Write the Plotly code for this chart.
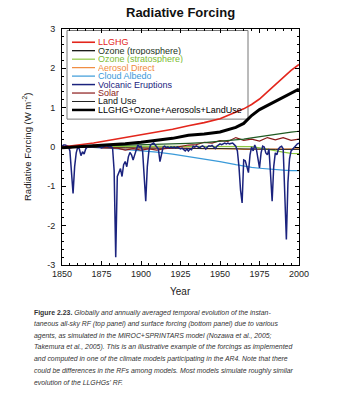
import plotly.graph_objects as go

# ---------------- data ----------------
smooth_years = [1850, 1860, 1870, 1880, 1890, 1900, 1910, 1920, 1930, 1940,
                1950, 1960, 1965, 1970, 1975, 1980, 1985, 1990, 1995, 2000]
llghg = [0.0, 0.05, 0.10, 0.17, 0.24, 0.30, 0.37, 0.45, 0.54, 0.62,
         0.72, 0.88, 0.97, 1.08, 1.22, 1.40, 1.58, 1.78, 1.95, 2.10]
total = [-0.02, 0.0, 0.03, 0.06, 0.08, 0.12, 0.17, 0.22, 0.30, 0.33,
         0.38, 0.50, 0.60, 0.80, 0.95, 1.05, 1.17, 1.27, 1.37, 1.47]
ozone_trop = [0.0, 0.01, 0.02, 0.03, 0.04, 0.05, 0.06, 0.07, 0.09, 0.11,
              0.14, 0.18, 0.20, 0.23, 0.26, 0.30, 0.32, 0.35, 0.38, 0.40]
ozone_strat = [0.0, 0.0, 0.01, 0.01, 0.02, 0.02, 0.02, 0.02, 0.02, 0.02,
               0.02, 0.02, 0.02, 0.01, -0.02, -0.06, -0.10, -0.13, -0.16, -0.17]
aerosol_direct = [0.0, 0.0, -0.01, -0.01, -0.02, -0.02, -0.03, -0.03, -0.03, -0.04,
                  -0.04, -0.05, -0.06, -0.06, -0.06, -0.06, -0.05, -0.05, -0.05, -0.05]
cloud_albedo = [0.0, 0.0, -0.01, -0.03, -0.06, -0.09, -0.13, -0.18, -0.24, -0.30,
                -0.37, -0.45, -0.49, -0.52, -0.54, -0.56, -0.58, -0.59, -0.60, -0.60]
land_use = [0.0, -0.01, -0.01, -0.02, -0.02, -0.03, -0.03, -0.03, -0.04, -0.04,
            -0.04, -0.05, -0.05, -0.05, -0.05, -0.06, -0.06, -0.06, -0.06, -0.06]

solar_years = [1850, 1855, 1860, 1865, 1870, 1875, 1880, 1885, 1890, 1895,
               1900, 1905, 1910, 1915, 1920, 1925, 1930, 1935, 1940, 1945,
               1950, 1955, 1960, 1965, 1970, 1975, 1980, 1985, 1990, 1995, 2000]
solar = [0.0, -0.03, 0.03, 0.0, 0.05, -0.02, -0.02, -0.03, -0.08, -0.04,
         -0.08, -0.05, -0.08, -0.04, -0.02, 0.02, 0.05, 0.06, 0.12, 0.10,
         0.16, 0.14, 0.24, 0.17, 0.20, 0.15, 0.24, 0.18, 0.24, 0.17, 0.20]

volc_years = list(range(1850, 2001))
volcanic = [
    0.02, 0.05, 0.05, 0.04, 0.02, -0.10, -0.70, -1.18, -0.50, -0.15,   # 1850-59
    0.00, -0.05, -0.22, -0.12, -0.18, -0.05, 0.00, 0.02, 0.02, 0.00,   # 1860-69
    0.02, 0.03, 0.02, 0.00, 0.00, -0.02, 0.00, 0.02, 0.03, 0.02,       # 1870-79
    0.00, 0.01, -0.02, -0.60, -2.80, -0.75, -0.62, -0.55, -0.75, -0.45,  # 1880-89
    -0.37, -0.50, -0.25, -0.14, -0.20, -0.33, -0.20, -0.05, 0.05, 0.00,  # 1890-99
    0.02, -0.10, -0.80, -1.38, -0.50, -0.10, 0.05, 0.08, 0.10, 0.05,   # 1900-09
    0.00, -0.05, -0.37, -0.20, 0.00, 0.02, -0.02, 0.00, -0.03, 0.00,   # 1910-19
    -0.02, 0.00, -0.03, 0.00, -0.02, -0.05, -0.03, -0.08, -0.10, -0.05,  # 1920-29
    -0.10, -0.05, -0.07, 0.02, 0.00, 0.03, 0.00, -0.02, 0.01, 0.03,    # 1930-39
    0.00, -0.05, 0.00, 0.03, 0.02, 0.04, 0.00, -0.04, 0.02, 0.05,      # 1940-49
    0.08, 0.06, 0.08, 0.10, 0.08, 0.10, 0.08, 0.10, 0.10, 0.06,        # 1950-59
    0.02, -0.10, -0.50, -1.10, -1.42, -0.33, -0.35, -0.50, -0.65, -0.20,  # 1960-69
    0.00, -0.10, 0.05, -0.05, -0.30, -0.53, -0.15, 0.02, 0.00, -0.15,  # 1970-79
    -0.20, -0.05, -0.70, -1.38, -0.50, -0.15, -0.20, -0.05, 0.00, 0.02,  # 1980-89
    -0.05, -1.20, -2.35, -0.90, -0.30, -0.10, -0.05, 0.00, 0.05, 0.08,  # 1990-99
    0.10,                                                               # 2000
]

series_names = ["LLGHG", "Ozone (troposphere)", "Ozone (stratosphere)", "Aerosol Direct",
                "Cloud Albedo", "Volcanic Eruptions", "Solar", "Land Use",
                "LLGHG+Ozone+Aerosols+LandUse"]
line_colors = ["#e3261c", "#1f5a22", "#8cc63f", "#f08a3c",
               "#3a9ad9", "#1b237e", "#8b1a1a", "#222222", "#000000"]
text_colors = ["#e3261c", "#233523", "#7dbb35", "#f08a3c",
               "#3a9ad9", "#1b237e", "#8b1a1a", "#111111", "#000000"]
line_widths = [1.6, 1.2, 1.2, 1.2, 1.2, 1.5, 1.2, 1.0, 3.0]

x_tick_vals = [1850, 1875, 1900, 1925, 1950, 1975, 2000]
y_tick_vals = [-3, -2, -1, 0, 1, 2, 3]
y_tick_text = ["-3", "-2", "-1", "0", "1", "2", "3"]

caption_lines = [
    "<b>Figure 2.23.</b> <i>Globally and annually averaged temporal evolution of the instan-</i>",
    "<i>taneous all-sky RF (top panel) and surface forcing (bottom panel) due to various</i>",
    "<i>agents, as simulated in the MIROC+SPRINTARS model (Nozawa et al., 2005;</i>",
    "<i>Takemura et al., 2005). This is an illustrative example of the forcings as implemented</i>",
    "<i>and computed in one of the climate models participating in the AR4. Note that there</i>",
    "<i>could be differences in the RFs among models. Most models simulate roughly similar</i>",
    "<i>evolution of the LLGHGs' RF.</i>",
]

# ---------------- layout geometry ----------------
W, H = 348, 400
L, R, T, B = 62, 49, 28.5, 134.5
PW, PH = W - L - R, H - T - B


def px(xp):
    return (xp - L) / PW


def py(yp):
    return 1 - (yp - T) / PH


FONT = "Liberation Sans, Arial, sans-serif"

fig = go.Figure()

order_data = [
    (smooth_years, cloud_albedo, 4),
    (smooth_years, aerosol_direct, 3),
    (smooth_years, ozone_strat, 2),
    (smooth_years, land_use, 7),
    (solar_years, solar, 6),
    (smooth_years, ozone_trop, 1),
    (volc_years, volcanic, 5),
    (smooth_years, llghg, 0),
    (smooth_years, total, 8),
]
for xs, ys, i in order_data:
    fig.add_trace(go.Scatter(x=xs, y=ys, mode="lines", name=series_names[i],
                             line=dict(color=line_colors[i], width=line_widths[i]),
                             showlegend=False))

# ---------------- manual legend ----------------
shapes = [dict(type="rect", xref="paper", yref="paper",
               x0=px(67), x1=px(248), y0=py(119), y1=py(30),
               line=dict(color="#777777", width=1), fillcolor="white", layer="below")]
annotations = []
row_y0, row_dy = 41.8, 8.5
for i, name in enumerate(series_names):
    yy = row_y0 + i * row_dy
    shapes.append(dict(type="line", xref="paper", yref="paper",
                       x0=px(72), x1=px(95), y0=py(yy), y1=py(yy),
                       line=dict(color=line_colors[i] if i != 1 else "#000000",
                                 width=min(line_widths[i], 2.5))))
    annotations.append(dict(xref="paper", yref="paper", x=px(97), y=py(yy),
                            xanchor="left", yanchor="middle", showarrow=False,
                            height=8, valign="middle", borderpad=0,
                            text=name, font=dict(family=FONT, size=9, color=text_colors[i])))

# title, axis titles
annotations.append(dict(xref="paper", yref="paper", x=px(180), y=py(12),
                        xanchor="center", yanchor="middle", showarrow=False,
                        text="<b>Radiative Forcing</b>",
                        font=dict(family=FONT, size=13, color="#111111")))
annotations.append(dict(xref="paper", yref="paper", x=px(27), y=py(147),
                        xanchor="center", yanchor="middle", showarrow=False, textangle=-90,
                        text="Radiative Forcing (W m<sup>-2</sup>)",
                        font=dict(family=FONT, size=9.5, color="#222222")))
annotations.append(dict(xref="paper", yref="paper", x=px(180), y=py(292),
                        xanchor="center", yanchor="middle", showarrow=False,
                        text="Year", font=dict(family=FONT, size=10, color="#222222")))

cap_y0, cap_dy = 313.5, 11.6
for k, line in enumerate(caption_lines):
    annotations.append(dict(xref="paper", yref="paper", x=px(32), y=py(cap_y0 + k * cap_dy),
                            xanchor="left", yanchor="middle", showarrow=False,
                            text=line, font=dict(family=FONT, size=6.9, color="#333333")))

axis_common = dict(showline=True, linecolor="black", linewidth=1, mirror="ticks",
                   ticks="inside", ticklen=4, tickcolor="black", tickwidth=1,
                   showgrid=False, zeroline=False,
                   tickfont=dict(family=FONT, size=9, color="#222222"))

fig.update_layout(
    width=W, height=H,
    margin=dict(l=L, r=R, t=T, b=B, pad=0),
    paper_bgcolor="white", plot_bgcolor="white",
    showlegend=False,
    xaxis=dict(range=[1850, 2000], tickvals=x_tick_vals,
               minor=dict(dtick=5, tick0=1850, ticks="inside", ticklen=2, tickcolor="black"),
               **axis_common),
    yaxis=dict(range=[-3, 3], tickvals=y_tick_vals, ticktext=y_tick_text,
               minor=dict(dtick=0.2, tick0=0, ticks="inside", ticklen=2, tickcolor="black"),
               ticklabelstandoff=4,
               **axis_common),
    shapes=shapes,
    annotations=annotations,
)

fig.write_html("out.html")
